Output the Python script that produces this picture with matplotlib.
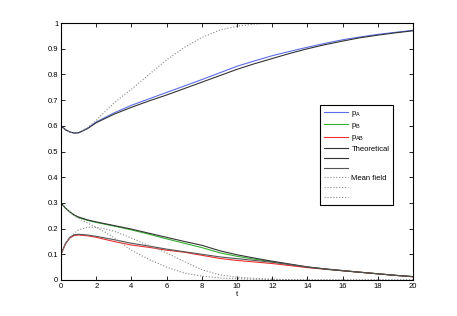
import numpy as np
import matplotlib
matplotlib.use('Agg')
import matplotlib.pyplot as plt

plt.rcParams['font.family'] = ['Liberation Sans', 'DejaVu Sans']

# time points
t = [0, 0.25, 0.5, 0.75, 1, 1.5, 2, 3, 4, 5, 6, 7, 8, 9, 10,
     11, 12, 13, 14, 15, 16, 17, 18, 19, 20]

# simulation
pA = [0.6, 0.585, 0.576, 0.572, 0.573, 0.59, 0.615, 0.65, 0.68, 0.705, 0.73, 0.755, 0.78, 0.806, 0.832,
      0.853, 0.873, 0.89, 0.906, 0.921, 0.935, 0.946, 0.956, 0.964, 0.972]
pB = [0.3, 0.28, 0.265, 0.252, 0.243, 0.232, 0.224, 0.21, 0.195, 0.178, 0.16, 0.143, 0.126, 0.106, 0.092,
      0.081, 0.071, 0.06, 0.05, 0.042, 0.036, 0.03, 0.024, 0.018, 0.013]
pAB = [0.1, 0.14, 0.163, 0.173, 0.175, 0.172, 0.166, 0.15, 0.136, 0.127, 0.116, 0.108, 0.096, 0.084, 0.076,
       0.07, 0.064, 0.056, 0.048, 0.042, 0.036, 0.03, 0.024, 0.018, 0.012]

# theoretical
thA = [0.6, 0.585, 0.576, 0.572, 0.573, 0.589, 0.612, 0.645, 0.672, 0.697, 0.72, 0.745, 0.77, 0.795, 0.82,
       0.842, 0.862, 0.882, 0.9, 0.916, 0.93, 0.943, 0.953, 0.962, 0.97]
thB = [0.3, 0.28, 0.265, 0.253, 0.245, 0.234, 0.226, 0.212, 0.198, 0.182, 0.166, 0.15, 0.135, 0.114, 0.098,
       0.085, 0.073, 0.062, 0.051, 0.043, 0.036, 0.03, 0.024, 0.018, 0.013]
thAB = [0.1, 0.142, 0.166, 0.176, 0.178, 0.175, 0.17, 0.157, 0.143, 0.132, 0.12, 0.11, 0.1, 0.09, 0.083,
        0.076, 0.069, 0.06, 0.05, 0.043, 0.037, 0.03, 0.024, 0.018, 0.013]

# mean field (own time grid)
tm = [0, 0.25, 0.5, 0.75, 1, 1.5, 2, 2.5, 3, 3.5, 4, 5, 6, 7, 8, 9, 10, 11, 12, 14, 16, 18, 20]
mfA = [0.6, 0.585, 0.576, 0.572, 0.574, 0.592, 0.622, 0.655, 0.688, 0.716, 0.742, 0.8, 0.857, 0.905, 0.944,
       0.972, 0.988, 0.996, 1.0, 1.0, 1.0, 1.0, 1.0]
mfB = [0.3, 0.28, 0.265, 0.25, 0.24, 0.222, 0.205, 0.186, 0.165, 0.14, 0.115, 0.08, 0.05, 0.027, 0.015,
       0.008, 0.005, 0.003, 0.002, 0, 0, 0, 0]
mfAB = [0.1, 0.14, 0.165, 0.182, 0.195, 0.205, 0.205, 0.199, 0.19, 0.177, 0.163, 0.134, 0.105, 0.072, 0.04,
        0.02, 0.011, 0.006, 0.003, 0, 0, 0, 0]

fig = plt.figure(figsize=(4.57, 3.16), dpi=100)
ax = fig.add_axes([0.1335, 0.114, 0.7705, 0.813])

lw = 0.8
ax.plot(t, pA, color='#5b6ee8', lw=lw, label='p$_\\mathregular{A}$')
ax.plot(t, pB, color='#33b033', lw=lw, label='p$_\\mathregular{B}$')
ax.plot(t, pAB, color='#ee3030', lw=lw, label='p$_\\mathregular{AB}$')
ax.plot(t, thA, color='#333333', lw=lw, label='Theoretical')
ax.plot(t, thB, color='#333333', lw=lw, label=' ')
ax.plot(t, thAB, color='#555555', lw=lw, label='  ')
ax.plot(tm, mfA, color='#888888', lw=lw, ls=':', label='Mean field')
ax.plot(tm, mfB, color='#888888', lw=lw, ls=':', label='   ')
ax.plot(tm, mfAB, color='#888888', lw=lw, ls=':', label='    ')

ax.set_xlim(0, 20)
ax.set_ylim(0, 1)
ax.set_xticks(np.arange(0, 21, 2))
ax.set_yticks(np.arange(0, 1.01, 0.1))
ax.set_yticklabels(['0', '0.1', '0.2', '0.3', '0.4', '0.5', '0.6', '0.7', '0.8', '0.9', '1'])
ax.tick_params(direction='in', top=True, right=True, labelsize=5.5, length=3, width=0.6, pad=2)
for s in ax.spines.values():
    s.set_linewidth(0.8)
ax.set_xlabel('t', fontsize=5.5, labelpad=1)

leg = ax.legend(loc='upper left', bbox_to_anchor=(0.736, 0.681), borderaxespad=0,
                fontsize=5.5, fancybox=False, edgecolor='black', framealpha=1,
                handlelength=3.1, labelspacing=0.3, handletextpad=0.5, borderpad=0.5)
leg.get_frame().set_linewidth(0.8)

plt.savefig('out.png', dpi=100)
